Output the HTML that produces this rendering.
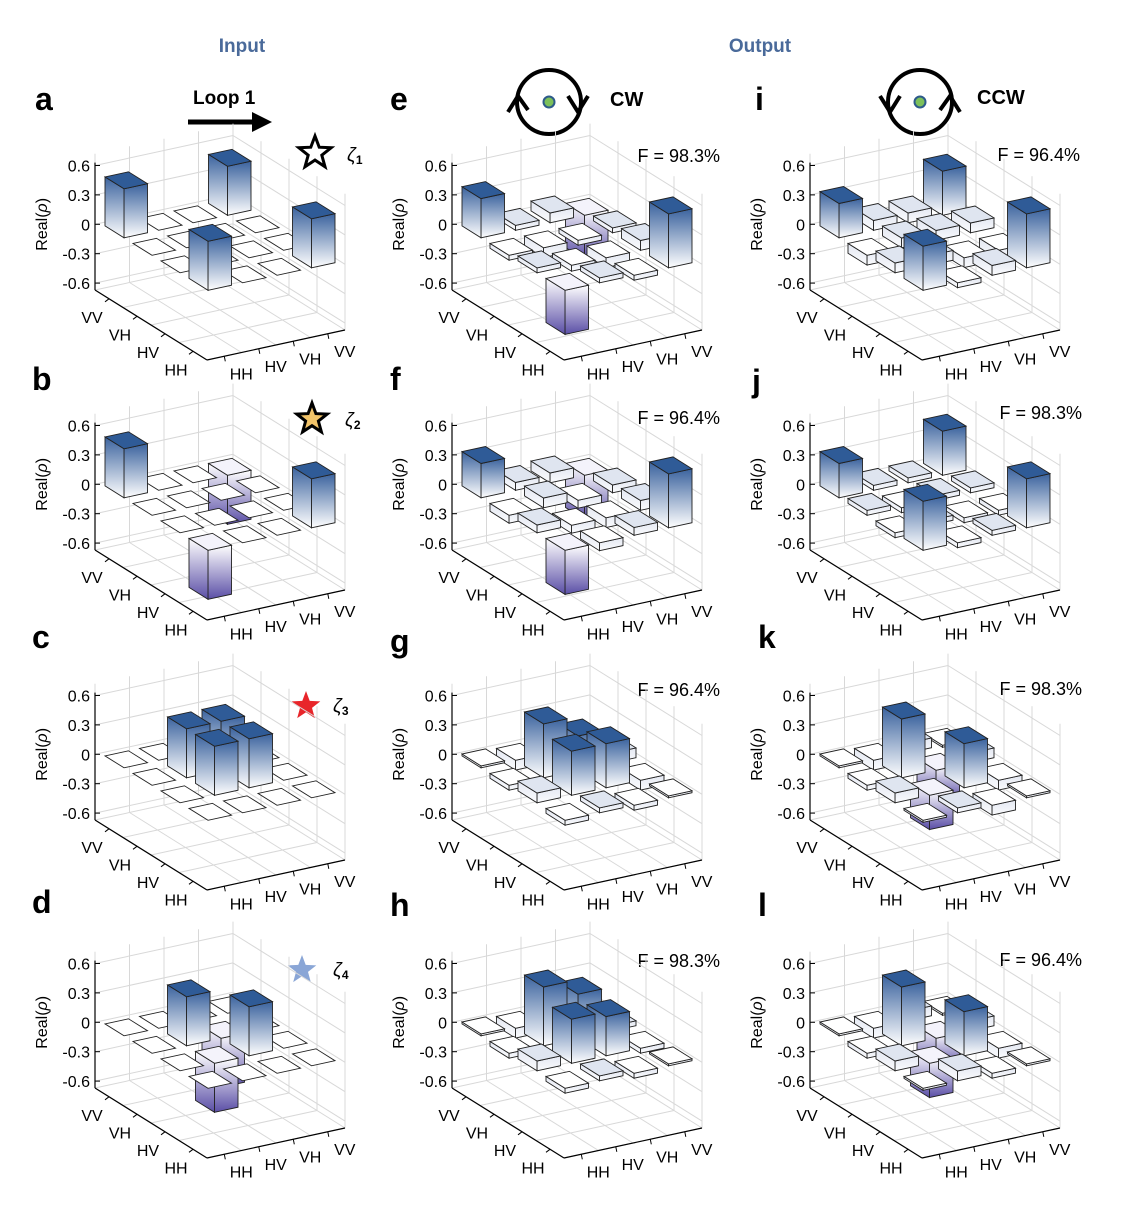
<!DOCTYPE html>
<html><head><meta charset="utf-8"><style>
body{margin:0;background:#fff}
svg{display:block}
text{font-family:"Liberation Sans",Arial,sans-serif}
</style></head><body>
<svg id="s" width="1143" height="1212" viewBox="0 0 1143 1212" xmlns="http://www.w3.org/2000/svg">
<defs>
<linearGradient id="gp" x1="0" y1="0" x2="0" y2="1"><stop offset="0" stop-color="#3b639e"/><stop offset="1" stop-color="#ffffff"/></linearGradient>
<linearGradient id="gn" x1="0" y1="0" x2="0" y2="1"><stop offset="0" stop-color="#ffffff"/><stop offset="1" stop-color="#5a4ea6"/></linearGradient>
<linearGradient id="gs" x1="0" y1="0" x2="0" y2="1"><stop offset="0" stop-color="#e4e8f2"/><stop offset="1" stop-color="#fafbfd"/></linearGradient>
</defs>
<g font-weight="bold" fill="#4a6a9a" font-size="19" text-anchor="middle">
<text x="242" y="52">Input</text><text x="760" y="52">Output</text></g>
<g font-weight="bold" font-size="32" fill="#000">
<text x="35" y="110">a</text><text x="390" y="110">e</text><text x="755" y="110">i</text>
<text x="32" y="390">b</text><text x="390" y="390">f</text><text x="752" y="392">j</text>
<text x="32" y="648">c</text><text x="390" y="652">g</text><text x="758" y="648">k</text>
<text x="32" y="913">d</text><text x="390" y="916">h</text><text x="758" y="916">l</text>
</g>
<text x="193" y="104" font-size="19" font-weight="bold">Loop 1</text>
<line x1="188" y1="122" x2="255" y2="122" stroke="#000" stroke-width="5"/>
<polygon points="252,112 272,122 252,132" fill="#000"/>
<g fill="none" stroke="#000" stroke-width="4">
<circle cx="549" cy="102" r="32"/><circle cx="920" cy="102" r="32"/>
<polyline points="508,112 518,96 528,110"/><polyline points="568,96 578,112 588,96"/>
<polyline points="880,96 890,112 900,96"/><polyline points="940,110 950,96 960,112"/>
</g>
<circle cx="549" cy="102" r="5.5" fill="#7cc05a" stroke="#2d5a8a" stroke-width="2"/>
<circle cx="920" cy="102" r="5.5" fill="#7cc05a" stroke="#2d5a8a" stroke-width="2"/>
<text x="610" y="106" font-size="20" font-weight="bold">CW</text>
<text x="977" y="104" font-size="20" font-weight="bold">CCW</text>
<g id="g"></g>
</svg>
<script>
var S=document.getElementById('g'),h='';
function star(cx,cy,r,fill){var p=[];for(var k=0;k<10;k++){var a=-Math.PI/2+k*Math.PI/5,rr=k%2?r*0.42:r;p.push((cx+rr*Math.cos(a)).toFixed(1)+','+(cy+rr*Math.sin(a)).toFixed(1));}
h+='<polygon points="'+p.join(' ')+'" fill="'+fill+'" stroke="'+(fill=='#fff'||fill=='#f2c46a'?'#000':'none')+'" stroke-width="3"/>';}
star(315,153,17,'#fff');star(312,419,16,'#f2c46a');star(306,706,15,'#e8252a');star(302,970,15,'#8aa6d6');
h+='<text x="347" y="161" font-size="19" font-style="italic">ζ<tspan font-size="12" font-weight="bold" font-style="normal" dy="3">1</tspan></text>';
h+='<text x="345" y="426" font-size="19" font-style="italic">ζ<tspan font-size="12" font-weight="bold" font-style="normal" dy="3">2</tspan></text>';
h+='<text x="333" y="712" font-size="19" font-style="italic">ζ<tspan font-size="12" font-weight="bold" font-style="normal" dy="3">3</tspan></text>';
h+='<text x="333" y="976" font-size="19" font-style="italic">ζ<tspan font-size="12" font-weight="bold" font-style="normal" dy="3">4</tspan></text>';
var Fl=[[720,162,'98.3'],[1080,161,'96.4'],[720,424,'96.4'],[1082,419,'98.3'],[720,696,'96.4'],[1082,695,'98.3'],[720,967,'98.3'],[1082,966,'96.4']];
Fl.forEach(function(f){h+='<text x="'+f[0]+'" y="'+f[1]+'" font-size="18" text-anchor="end">F = '+f[2]+'%</text>';});
var A=[[.5,0,0,.5],[0,0,0,0],[0,0,0,0],[.5,0,0,.5]];
var B=[[-.5,0,0,.5],[0,0,0,0],[0,0,0,0],[.5,0,0,-.5]];
var C=[[0,0,0,0],[0,.5,.5,0],[0,.5,.5,0],[0,0,0,0]];
var D=[[0,0,0,0],[0,-.5,.5,0],[0,.5,-.5,0],[0,0,0,0]];
var E=[[-.45,.05,-.05,.55],[.05,-.06,-.1,.1],[-.05,-.1,-.05,.05],[.4,.05,.1,-.45]];
var F=[[-.45,-.08,.08,.55],[.08,-.08,-.1,.1],[-.08,.1,-.08,.08],[.35,.08,.1,-.45]];
var I=[[.45,-.05,.1,.55],[.1,.1,-.1,-.1],[-.1,.1,.1,.1],[.35,.1,.1,.45]];
var J=[[.5,-.05,.05,.5],[-.05,.05,-.05,-.05],[.05,-.05,.05,.05],[.35,.05,.05,.45]];
var G=[[-.05,.05,-.05,.02],[.1,.45,.45,-.1],[-.05,.55,.35,.1],[.02,-.1,.1,-.02]];
var K=[[-.02,.05,-.1,.02],[.1,-.35,.45,-.1],[-.05,.6,-.3,.1],[.02,-.1,.1,-.02]];
var H=[[-.05,.05,-.05,.02],[.1,.45,.4,-.05],[-.05,.6,.45,.05],[.02,-.1,.05,-.02]];
var Lm=[[-.02,.1,-.05,.02],[.1,-.35,.45,-.1],[-.05,.6,-.3,.1],[.02,-.1,.1,-.02]];
var P=[[0,0,A],[357,0,E],[715,0,I],[0,260,B],[357,260,F],[715,260,J],[0,530,C],[357,530,G],[715,530,K],[0,798,D],[357,798,H],[715,798,Lm]];
var Lx=-112,Ly=-70,Rx=138,Ry=-30,zf=-0.67,SC=98;
P.forEach(function(p){
 var ox=207+p[0],oy=360+p[1],M=p[2];
 function pr(i,j,z){return [ox+i/4*Lx+j/4*Rx, oy+i/4*Ly+j/4*Ry-(z-zf)*SC];}
 function pt(a){return a[0].toFixed(1)+','+a[1].toFixed(1);}
 function ln(a,b,c,w){h+='<line x1="'+a[0].toFixed(1)+'" y1="'+a[1].toFixed(1)+'" x2="'+b[0].toFixed(1)+'" y2="'+b[1].toFixed(1)+'" stroke="'+c+'" stroke-width="'+w+'"/>';}
 function poly(ps,f){h+='<polygon points="'+ps.map(pt).join(' ')+'" fill="'+f+'" stroke="#222" stroke-width="0.9"/>';}
 var gc='#d8d8d8',zt=0.72;
 for(var k=0;k<=4;k++){ln(pr(4,k,zf),pr(4,k,zt),gc,1);ln(pr(k,4,zf),pr(k,4,zt),gc,1);ln(pr(k,0,zf),pr(k,4,zf),gc,1);ln(pr(0,k,zf),pr(4,k,zf),gc,1);}
 [-0.6,-0.3,0,0.3,0.6].forEach(function(z){ln(pr(4,0,z),pr(4,4,z),gc,1);ln(pr(4,4,z),pr(0,4,z),gc,1);});
 ln(pr(4,0,zf),pr(4,0,0.63),'#000',1.2);ln(pr(4,0,zf),pr(0,0,zf),'#000',1.2);ln(pr(0,0,zf),pr(0,4,zf),'#000',1.2);
 [['0.6',.6],['0.3',.3],['0',0],['-0.3',-.3],['-0.6',-.6]].forEach(function(t){var q=pr(4,0,t[1]);ln(q,[q[0]+5,q[1]],'#000',1);
  h+='<text x="'+(q[0]-5)+'" y="'+(q[1]+6)+'" font-size="16" text-anchor="end">'+t[0]+'</text>';});
 var zq=pr(4,0,0);h+='<text transform="translate('+(zq[0]-48)+','+zq[1]+') rotate(-90)" font-size="16" text-anchor="middle">Real(<tspan font-style="italic">ρ</tspan>)</text>';
 var lab=['HH','HV','VH','VV'];
 for(var k=0;k<4;k++){var q=pr(k+.5,0,zf);h+='<text x="'+(q[0]-17)+'" y="'+(q[1]+24)+'" font-size="16" text-anchor="middle">'+lab[k]+'</text>';
  ln(q,[q[0]-4,q[1]+3],'#000',1);
  q=pr(0,k+.5,zf);h+='<text x="'+(q[0]+17)+'" y="'+(q[1]+23)+'" font-size="16" text-anchor="middle">'+lab[k]+'</text>';ln(q,[q[0]+1,q[1]+5],'#000',1);}
 var cells=[];for(var i=0;i<4;i++)for(var j=0;j<4;j++)cells.push([i,j]);
 cells.sort(function(a,b){return (b[0]+b[1])-(a[0]+a[1]);});
 var w=0.34;
 cells.forEach(function(c){var i=c[0],j=c[1],v=M[i][j],i0=i+.5-w,i1=i+.5+w,j0=j+.5-w,j1=j+.5+w;
  var zt2=Math.max(v,0),zb=Math.min(v,0);
  if(Math.abs(v)>0.015){var g=Math.abs(v)<0.15?'url(#gs)':(v>0?'url(#gp)':'url(#gn)');
   poly([pr(i0,j0,zt2),pr(i0,j1,zt2),pr(i0,j1,zb),pr(i0,j0,zb)],g);
   poly([pr(i0,j0,zt2),pr(i1,j0,zt2),pr(i1,j0,zb),pr(i0,j0,zb)],g);}
  var tf=v>0.15?'#2f5b97':(v>0.03?'#dfe5f0':(v<-0.15?'#f4f3fb':'#fff'));
  poly([pr(i0,j0,zt2),pr(i1,j0,zt2),pr(i1,j1,zt2),pr(i0,j1,zt2)],tf);
 });
});
S.innerHTML=h;
</script>
</body></html>
